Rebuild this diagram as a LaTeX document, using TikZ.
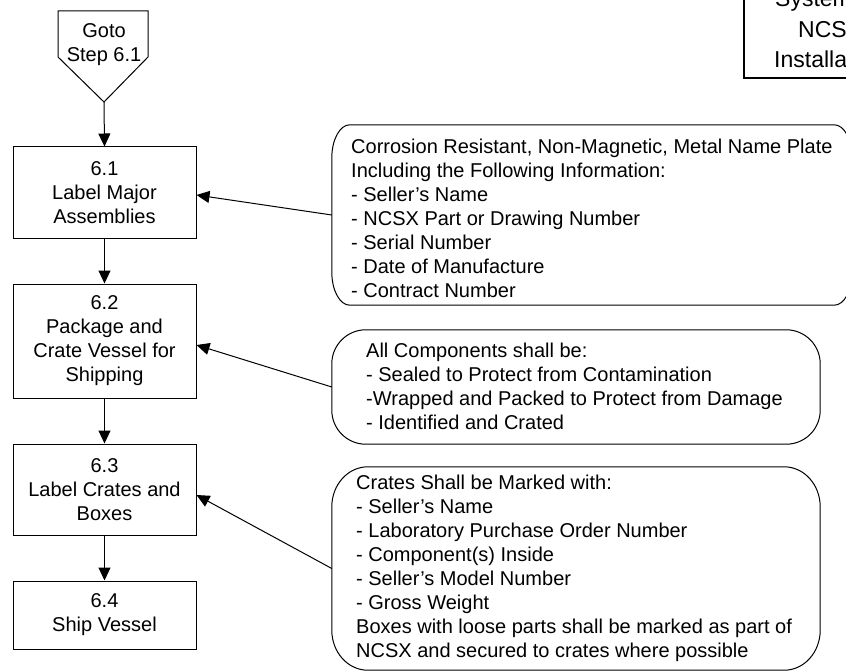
\documentclass[tikz,border=0pt]{standalone}
\usepackage{fontspec}
\setmainfont{Liberation Sans}
\usetikzlibrary{arrows.meta}
\tikzset{
  txt/.style={font=\fontsize{20}{24}\selectfont},
  stepbox/.style={draw, line width=1pt, rectangle, minimum width=183pt, align=center, inner sep=0pt, txt},
  notetext/.style={anchor=west, align=left, inner sep=0pt, txt},
  outline/.style={rectangle, draw=none, inner sep=0pt},
  flow/.style={line width=1pt, -{Triangle[length=13pt,width=12pt]}},
  frame/.style={line width=1pt},
  bigtxt/.style={anchor=base west, inner sep=0pt, font=\fontsize{23}{30}\selectfont},
}
\newcommand\calloutline[3]{%
  \draw[frame] ([xshift=#2]#1.north west) -- ([xshift=-#2]#1.north east)
    arc[start angle=90,end angle=0,x radius=#2,y radius=#3]
    -- ([yshift=#3]#1.south east)
    arc[start angle=0,end angle=-90,x radius=#2,y radius=#3]
    -- ([xshift=#2]#1.south west)
    arc[start angle=270,end angle=180,x radius=#2,y radius=#3]
    -- ([yshift=-#3]#1.north west)
    arc[start angle=180,end angle=90,x radius=#2,y radius=#3] -- cycle;}
\begin{document}
\begin{tikzpicture}[x=1pt,y=-1pt]
\useasboundingbox (0,0) rectangle (846,671);
\begin{scope}
\clip (0,0) rectangle (846,671);

% top-right partial box
\node[rectangle, draw, line width=2pt, anchor=south west, minimum width=160pt, minimum height=120pt] (tr) at (743,79) {};
\node[bigtxt] (tr1) at (775,7) {System};
\node[bigtxt] (tr2) at (798,38) {NCSX};
\node[bigtxt] (tr3) at (774,68) {Installation};

% goto connector
\draw[frame] (58,11) -- (148,11) -- (148,57) -- (104,102) -- (58,57) -- cycle;
\node[txt, align=center, inner sep=0pt] (g) at (104,45) {Goto\\Step 6.1};
\coordinate (gt) at (104,102);

% steps
\node[stepbox, minimum height=92pt]  (s1) at (104.5,193)   {6.1\\Label Major\\Assemblies};
\node[stepbox, minimum height=114pt] (s2) at (104.5,341)   {6.2\\Package and\\Crate Vessel for\\Shipping};
\node[stepbox, minimum height=91pt]  (s3) at (104.5,489.5) {6.3\\Label Crates and\\Boxes};
\node[stepbox, minimum height=68pt]  (s4) at (104.5,615)   {6.4\\Ship Vessel};

\draw[flow] (gt) -- (s1.north);
\draw[flow] (s1.south) -- (s2.north);
\draw[flow] (s2.south) -- (s3.north);
\draw[flow] (s3.south) -- (s4.north);

% callouts
\node[outline, minimum width=520pt, minimum height=180pt] (cA) at (592,215) {};
\node[outline, minimum width=488pt, minimum height=114pt] (cB) at (576,387) {};
\node[outline, minimum width=488pt, minimum height=203pt] (cC) at (576,568.5) {};
\calloutline{cA}{18pt}{33pt}
\calloutline{cB}{34pt}{34pt}
\calloutline{cC}{36pt}{40pt}

\node[notetext] (tA) at (351,218.5) {Corrosion Resistant, Non-Magnetic, Metal Name Plate\\Including the Following Information:\\- Seller’s Name\\- NCSX Part or Drawing Number\\- Serial Number\\- Date of Manufacture\\- Contract Number};
\node[notetext] (tB) at (366,386) {All Components shall be:\\- Sealed to Protect from Contamination\\-Wrapped and Packed to Protect from Damage\\- Identified and Crated};
\node[notetext] (tC) at (356,568.5) {Crates Shall be Marked with:\\- Seller’s Name\\- Laboratory Purchase Order Number\\- Component(s) Inside\\- Seller’s Model Number\\- Gross Weight\\Boxes with loose parts shall be marked as part of\\NCSX and secured to crates where possible};

\draw[flow] (cA.west) -- ([yshift=-2pt]s1.east);
\draw[flow] (cB.west) -- ([yshift=-4pt]s2.east);
\draw[flow] (cC.west) -- ([yshift=-5.5pt]s3.east);
\end{scope}
\end{tikzpicture}
\end{document}
